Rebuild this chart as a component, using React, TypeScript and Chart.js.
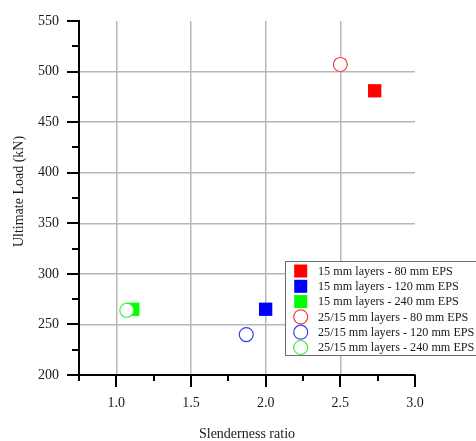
import React, { useEffect, useRef } from "react";
import { Chart, registerables } from "chart.js";

Chart.register(...registerables);

// Series labels
const seriesLabels = [
  "15 mm layers - 80 mm EPS",
  "15 mm layers - 120 mm EPS",
  "15 mm layers - 240 mm EPS",
  "25/15 mm layers - 80 mm EPS",
  "25/15 mm layers - 120 mm EPS",
  "25/15 mm layers - 240 mm EPS",
];

// Slenderness ratio / ultimate load for 15 mm layers (80, 120, 240 mm EPS)
const slenderness15 = [2.73, 2.0, 1.11];
const load15 = [481, 265, 265];

// Slenderness ratio / ultimate load for 25/15 mm layers (80, 120, 240 mm EPS)
const slenderness2515 = [2.5, 1.87, 1.07];
const load2515 = [507, 240, 264];

const seriesColors = ["#ff0000", "#0000ff", "#00ff00"];
const outlineColors = ["#ff3b3b", "#3b3bff", "#3bef3b"];

const xTickMin = 0.75;
const xTickMax = 3.0;
const yTickMin = 200;
const yTickMax = 550;

const FONT = "'Liberation Serif', 'Times New Roman', serif";
const GRID = "#b8b8b8";

const isMajorX = (v: number) => Math.abs(v * 2 - Math.round(v * 2)) < 1e-6;
const isMajorY = (v: number) => Math.abs(v % 50) < 1e-6;

// Tick marks, y title and the in-plot legend
const decorations = {
  id: "decorations",
  afterDraw(chart: any) {
    const { ctx, chartArea, scales } = chart;
    const x = scales.x;
    const y = scales.y;
    ctx.save();
    ctx.strokeStyle = "#000";
    ctx.lineWidth = 2;
    ctx.lineCap = "butt";
    x.ticks.forEach((t: any) => {
      const px = Math.round(x.getPixelForValue(t.value));
      const len = isMajorX(t.value) ? 12 : 6;
      ctx.beginPath();
      ctx.moveTo(px, chartArea.bottom);
      ctx.lineTo(px, chartArea.bottom + len);
      ctx.stroke();
    });
    y.ticks.forEach((t: any) => {
      const py = Math.round(y.getPixelForValue(t.value));
      const len = isMajorY(t.value) ? 12 : 7;
      ctx.beginPath();
      ctx.moveTo(chartArea.left, py);
      ctx.lineTo(chartArea.left - len, py);
      ctx.stroke();
    });

    // y axis title
    ctx.save();
    ctx.translate(19, 191.5);
    ctx.rotate(-Math.PI / 2);
    ctx.fillStyle = "#1a1a1a";
    ctx.font = `14px ${FONT}`;
    ctx.textAlign = "center";
    ctx.textBaseline = "middle";
    ctx.fillText("Ultimate Load (kN)", 0, 0);
    ctx.restore();

    // legend
    const boxLeft = 285.5;
    const boxTop = 261.5;
    const boxBottom = 355.5;
    ctx.fillStyle = "#fff";
    ctx.fillRect(boxLeft, boxTop, 200, boxBottom - boxTop);
    ctx.strokeStyle = "#6e6e6e";
    ctx.lineWidth = 1;
    ctx.strokeRect(boxLeft, boxTop, 200, boxBottom - boxTop);
    const rowStart = 271;
    const rowGap = 15.3;
    const markerX = 300.7;
    chart.data.datasets.forEach((ds: any, i: number) => {
      const cy = rowStart + i * rowGap;
      if (ds.pointStyle === "rect") {
        ctx.fillStyle = ds.backgroundColor;
        ctx.fillRect(markerX - 6.5, cy - 6.5, 13, 13);
      } else {
        ctx.beginPath();
        ctx.arc(markerX, cy, 7, 0, Math.PI * 2);
        ctx.fillStyle = "#fff";
        ctx.fill();
        ctx.strokeStyle = ds.borderColor;
        ctx.lineWidth = 1.2;
        ctx.stroke();
      }
      ctx.fillStyle = "#1a1a1a";
      ctx.font = `12.2px ${FONT}`;
      ctx.textAlign = "left";
      ctx.textBaseline = "middle";
      ctx.fillText(ds.label, 318, cy + 0.5);
    });
    ctx.restore();
  },
};

export default function App() {
  const canvasRef = useRef<HTMLCanvasElement | null>(null);

  useEffect(() => {
    if (!canvasRef.current) return;

    const squares = slenderness15.map((sx, i) => ({
      label: seriesLabels[i],
      data: [{ x: sx, y: load15[i] }],
      pointStyle: "rect",
      pointRadius: 9.4,
      pointHoverRadius: 9.4,
      backgroundColor: seriesColors[i],
      borderColor: seriesColors[i],
      borderWidth: 0,
      order: 1,
    }));
    const circles = slenderness2515.map((sx, i) => ({
      label: seriesLabels[i + 3],
      data: [{ x: sx, y: load2515[i] }],
      pointStyle: "circle",
      pointRadius: 7,
      pointHoverRadius: 7,
      backgroundColor: "#ffffff",
      borderColor: outlineColors[i],
      borderWidth: 1.2,
      order: 0,
    }));

    const chart = new Chart(canvasRef.current, {
      type: "scatter",
      data: { datasets: [...squares, ...circles] as any },
      options: {
        responsive: false,
        animation: false,
        devicePixelRatio: 1,
        layout: { padding: { left: 0, top: 21, right: 61, bottom: 0 } },
        plugins: {
          legend: { display: false },
          tooltip: { enabled: false },
        },
        scales: {
          x: {
            type: "linear",
            min: xTickMin,
            max: xTickMax,
            afterFit: (s: any) => {
              s.height = 66;
              s.paddingLeft = 0;
              s.paddingRight = 0;
            },
            border: { display: true, color: "#000", width: 2 },
            grid: {
              drawTicks: false,
              lineWidth: 1.5,
              color: (c: any) =>
                c.tick && isMajorX(c.tick.value) && c.tick.value < xTickMax - 1e-6
                  ? GRID
                  : "rgba(0,0,0,0)",
            },
            ticks: {
              stepSize: 0.25,
              padding: 20,
              autoSkip: false,
              maxRotation: 0,
              color: "#1a1a1a",
              font: { family: FONT, size: 14 },
              callback: (v: any) => (isMajorX(Number(v)) ? Number(v).toFixed(1) : ""),
            },
            title: {
              display: true,
              text: "Slenderness ratio",
              color: "#1a1a1a",
              font: { family: FONT, size: 14, lineHeight: 1 },
              padding: { top: 0, bottom: 0 },
            },
          },
          y: {
            type: "linear",
            min: yTickMin,
            max: yTickMax,
            afterFit: (s: any) => {
              s.width = 79;
              s.paddingTop = 0;
              s.paddingBottom = 0;
            },
            border: { display: true, color: "#000", width: 2 },
            grid: {
              drawTicks: false,
              lineWidth: 1.5,
              color: (c: any) =>
                c.tick &&
                isMajorY(c.tick.value) &&
                c.tick.value > yTickMin &&
                c.tick.value < yTickMax
                  ? GRID
                  : "rgba(0,0,0,0)",
            },
            ticks: {
              stepSize: 25,
              padding: 20,
              autoSkip: false,
              color: "#1a1a1a",
              font: { family: FONT, size: 14 },
              callback: (v: any) => (isMajorY(Number(v)) ? String(v) : ""),
            },
          },
        },
      },
      plugins: [decorations],
    });

    return () => chart.destroy();
  }, []);

  return (
    <div style={{ position: "absolute", left: 0, top: 0, width: 476, height: 441, background: "#fff" }}>
      <canvas ref={canvasRef} width={476} height={441} style={{ display: "block" }} />
    </div>
  );
}
